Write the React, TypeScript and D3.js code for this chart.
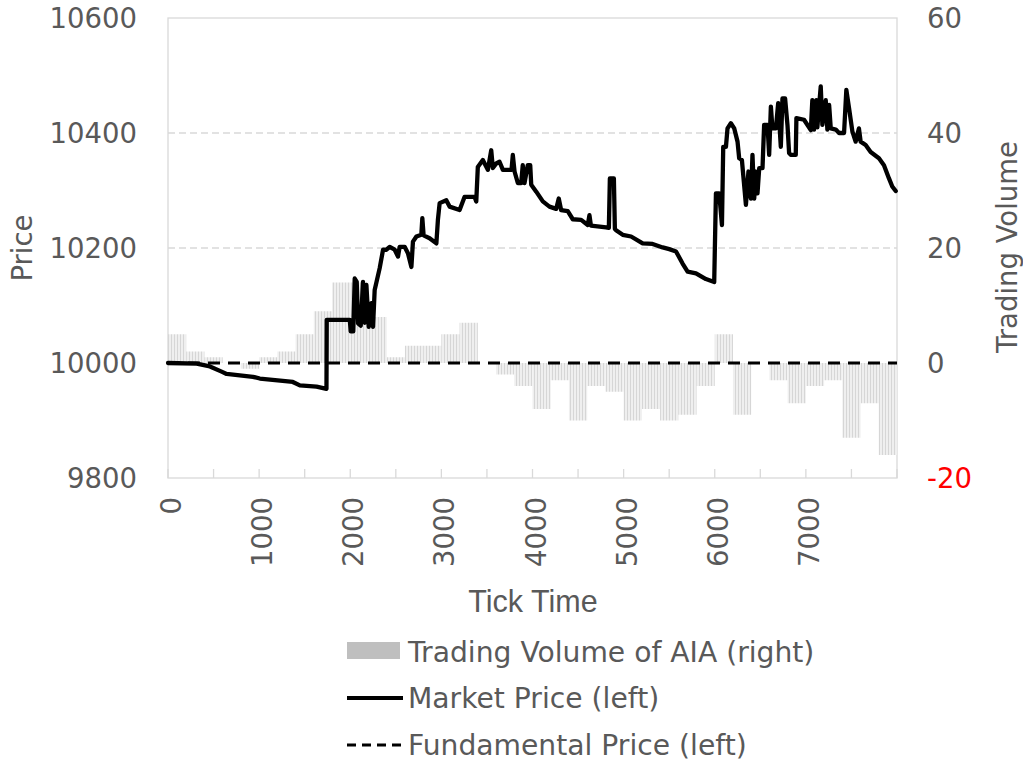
import React from "react";
import * as d3 from "d3";

const volumeBinStarts = [0,200,400,600,800,1000,1200,1400,1600,1800,2000,2200,2400,2600,2800,3000,3200,3400,3600,3800,4000,4200,4400,4600,4800,5000,5200,5400,5600,5800,6000,6200,6400,6600,6800,7000,7200,7400,7600,7800];
const volumeValues = [5,2,1,0,-1,1,2,5,9,14,14,8,1,3,3,5,7,0,-2,-4,-8,-3,-10,-4,-5,-10,-8,-10,-9,-4,5,-9,0,-3,-7,-4,-3,-13,-7,-16];
const volumeBinWidth = 200;

const priceTicks = [0,315,460,588,643,932,1008,1370,1447,1630,1739,1742,1995,2005,2033,2049,2071,2086,2115,2140,2159,2177,2203,2232,2250,2268,2323,2360,2397,2433,2488,2524,2542,2597,2633,2671,2688,2726,2780,2791,2805,2871,2945,2962,2981,3054,3090,3200,3255,3364,3383,3400,3455,3510,3547,3565,3602,3638,3675,3770,3784,3803,3839,3876,3893,3912,3948,3975,3986,4041,4113,4186,4260,4288,4314,4387,4442,4534,4606,4625,4641,4808,4838,4849,4893,4904,4917,4990,5082,5209,5318,5428,5501,5575,5647,5702,5794,5903,5994,6013,6049,6079,6093,6123,6140,6177,6214,6250,6268,6298,6342,6370,6397,6414,6433,6451,6469,6488,6524,6542,6579,6597,6616,6633,6671,6696,6725,6743,6772,6798,6816,6834,6871,6889,6896,6980,7054,7071,7090,7115,7126,7163,7181,7218,7236,7255,7273,7328,7364,7419,7444,7474,7510,7546,7582,7601,7656,7711,7802,7857,7912,7948,7986];
const marketPrices = [10000,9999,9994,9985,9981,9976,9973,9967,9961,9959,9955,10075,10075,10055,10055,10147,10141,10069,10065,10141,10070,10136,10063,10104,10063,10127,10165,10197,10197,10202,10197,10185,10202,10202,10191,10167,10211,10220,10223,10252,10222,10217,10208,10249,10278,10283,10272,10266,10289,10289,10281,10341,10353,10336,10370,10339,10347,10350,10336,10336,10362,10333,10313,10313,10344,10313,10344,10344,10310,10298,10281,10272,10268,10286,10266,10264,10250,10249,10240,10257,10239,10236,10235,10321,10321,10233,10231,10223,10220,10208,10207,10201,10198,10194,10173,10159,10156,10146,10141,10295,10295,10240,10376,10376,10408,10417,10408,10385,10356,10353,10275,10333,10286,10362,10286,10333,10295,10339,10339,10414,10414,10362,10446,10408,10408,10452,10376,10460,10460,10414,10365,10362,10362,10362,10426,10423,10405,10457,10406,10457,10410,10481,10414,10457,10406,10449,10408,10406,10400,10400,10475,10443,10403,10385,10408,10385,10379,10367,10356,10344,10321,10307,10299];

const fundamentalTicks = [0, 8000];
const fundamentalPrices = [10000, 10000];

const xTickMarks = d3.range(0, 8001, 500);
const xTickLabels = [0,1000,2000,3000,4000,5000,6000,7000];
const leftTicks = [9800,10000,10200,10400,10600];
const leftGrid = [10200,10400];
const rightTicks = [-20,0,20,40,60];

const legendItems = ["Trading Volume of AIA (right)", "Market Price (left)", "Fundamental Price (left)"];

export default function App() {
  const W = 1023, H = 765;
  const L = 168, R = 897, T = 18, B = 478;
  const x = d3.scaleLinear().domain([0, 8000]).range([L, R]);
  const yL = d3.scaleLinear().domain([9800, 10600]).range([B, T]);
  const yR = d3.scaleLinear().domain([-20, 60]).range([B, T]);
  const txt = "#595959";
  const font = "DejaVu Sans, Verdana, sans-serif";

  const line = d3.line<number>().x((d, i) => x(priceTicks[i])).y((d) => yL(d));
  const fline = d3.line<number>().x((d, i) => x(fundamentalTicks[i])).y((d) => yL(d));

  return (
    <svg width={W} height={H} style={{ position: "absolute", left: 0, top: 0, background: "#fff" }}>
      <defs>
        <pattern id="stripes" width="3" height="10" patternUnits="userSpaceOnUse">
          <rect width="3" height="10" fill="#efefef" />
          <rect width="1" height="10" fill="#d6d6d6" />
        </pattern>
      </defs>
      {leftGrid.map((v) => (
        <line key={v} x1={L} x2={R} y1={yL(v)} y2={yL(v)} stroke="#d9d9d9" strokeWidth={1.3} strokeDasharray="7,4" />
      ))}
      <rect x={L} y={T} width={R - L} height={B - T} fill="none" stroke="#d9d9d9" strokeWidth={1.3} />
      {xTickMarks.map((t) => (
        <line key={t} x1={x(t)} x2={x(t)} y1={B} y2={B - 9} stroke="#d9d9d9" strokeWidth={1.3} />
      ))}
      {volumeValues.map((v, i) => {
        const x0 = x(volumeBinStarts[i]);
        const x1 = x(volumeBinStarts[i] + volumeBinWidth);
        const y0 = yR(Math.max(0, v));
        const y1 = yR(Math.min(0, v));
        return <rect key={i} x={x0} y={y0} width={x1 - x0} height={y1 - y0} fill="url(#stripes)" />;
      })}
      <path d={fline(fundamentalPrices) || ""} fill="none" stroke="#000" strokeWidth={3} strokeDasharray="12,8" />
      <path d={line(marketPrices) || ""} fill="none" stroke="#000" strokeWidth={4.3} strokeLinejoin="round" strokeLinecap="round" />
      {leftTicks.map((v) => (
        <text key={v} x={137} y={yL(v)} textAnchor="end" dominantBaseline="central" fontFamily={font} fontSize={27.5} fill={txt}>{v}</text>
      ))}
      {rightTicks.map((v) => (
        <text key={v} x={927} y={yR(v)} textAnchor="start" dominantBaseline="central" fontFamily={font} fontSize={27.5} fill={v < 0 ? "#ff0000" : txt}>{v}</text>
      ))}
      {xTickLabels.map((t) => (
        <text key={t} transform={`translate(${x(t) + 3},${497}) rotate(-90)`} textAnchor="end" dominantBaseline="central" fontFamily={font} fontSize={27.5} fill={txt}>{t}</text>
      ))}
      <text x={533} y={601} textAnchor="middle" dominantBaseline="central" fontFamily="Liberation Sans, Arial, sans-serif" fontSize={30.5} fill={txt}>Tick Time</text>
      <text transform={`translate(22,248) rotate(-90)`} textAnchor="middle" dominantBaseline="central" fontFamily={font} fontSize={27.5} fill={txt}>Price</text>
      <text transform={`translate(1007,247) rotate(-90)`} textAnchor="middle" dominantBaseline="central" fontFamily={font} fontSize={27.5} fill={txt}>Trading Volume</text>
      <rect x={347} y={642} width={53} height={17} fill="#bfbfbf" />
      <line x1={347} x2={403} y1={698} y2={698} stroke="#000" strokeWidth={4} />
      <line x1={347} x2={403} y1={745} y2={745} stroke="#000" strokeWidth={2.8} strokeDasharray="9,6" />
      {legendItems.map((s, i) => (
        <text key={s} x={408} y={652 + i * 46.5} dominantBaseline="central" fontFamily={font} fontSize={28.2} fill={txt}>{s}</text>
      ))}
    </svg>
  );
}
